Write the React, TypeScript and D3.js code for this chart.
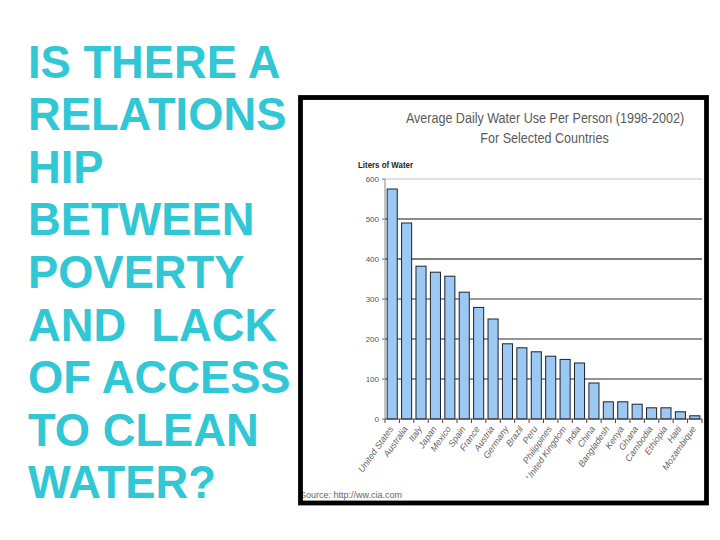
import React from "react";
import * as d3 from "d3";

const countries = [
  "United States", "Australia", "Italy", "Japan", "Mexico", "Spain", "France", "Austria",
  "Germany", "Brazil", "Peru", "Philippines", "United Kingdom", "India", "China",
  "Bangladesh", "Kenya", "Ghana", "Cambodia", "Ethiopia", "Haiti", "Mozambique",
];
const litersPerDay = [
  575, 490, 382, 367, 357, 317, 279, 250, 188, 178, 168, 157, 149, 140, 90,
  43, 43, 37, 28, 28, 18, 8,
];
const yTicks = [0, 100, 200, 300, 400, 500, 600];
const headingLines = [
  "IS THERE A", "RELATIONS", "HIP", "BETWEEN", "POVERTY", "AND\u00a0\u00a0LACK",
  "OF ACCESS", "TO CLEAN", "WATER?",
];
const chartTitle = ["Average Daily Water Use Per Person (1998-2002)", "For Selected Countries"];
const yAxisTitle = "Liters of Water";
const sourceText = "Source: http://ww.cia.com";

const gridColor: Record<number, string> = {
  600: "#c4c4c4", 500: "#1a1a1a", 400: "#555", 300: "#7a7a7a", 200: "#2a2a2a", 100: "#2a2a2a",
};

export default function App() {
  const x = d3.scaleBand<string>().domain(countries).range([385, 702]).paddingInner(0.3).paddingOuter(0.15);
  const y = d3.scaleLinear().domain([0, 600]).range([419, 179]);
  const step = x.step();
  const sans = "'Liberation Sans', Arial, sans-serif";

  return (
    <svg width={720} height={540} style={{ position: "absolute", left: 0, top: 0, background: "#fff" }}>
      <rect x={0} y={0} width={720} height={540} fill="#fff" />
      {headingLines.map((t, i) => (
        <text key={i} x={28} y={77.5 + i * 52.6} fill="#31c7d4"
          fontFamily={sans} fontWeight="bold" fontSize={45.3}>
          {t}
        </text>
      ))}

      <g transform="translate(545,123) scale(0.81,1)">
        <text x={0} y={0} textAnchor="middle" fill="#5a5a5a" fontFamily={sans} fontSize={15.5}>{chartTitle[0]}</text>
      </g>
      <g transform="translate(544.5,143) scale(0.81,1)">
        <text x={0} y={0} textAnchor="middle" fill="#5a5a5a" fontFamily={sans} fontSize={15.5}>{chartTitle[1]}</text>
      </g>

      <g transform="translate(358,168) scale(0.85,1)">
        <text x={0} y={0} fill="#222" fontFamily={sans} fontWeight="bold" fontSize={9.3}>{yAxisTitle}</text>
      </g>

      {yTicks.filter((t) => t > 0).map((t) => (
        <line key={t} x1={385} x2={702} y1={y(t)} y2={y(t)} stroke={gridColor[t]}
          strokeWidth={t === 300 || t === 400 ? 1.3 : 1} />
      ))}

      {yTicks.map((t) => (
        <g key={t}>
          <line x1={382} x2={385} y1={y(t)} y2={y(t)} stroke="#777" />
          <text x={379} y={y(t)} dy="0.35em" textAnchor="end" fill="#555" fontFamily={sans} fontSize={8}>{t}</text>
        </g>
      ))}
      <line x1={385} x2={385} y1={179} y2={419} stroke="#888" />

      {countries.map((c, i) => (
        <rect key={c} x={x(c)!} y={y(litersPerDay[i])} width={x.bandwidth()}
          height={y(0) - y(litersPerDay[i])} fill="#9cc8f4" stroke="#1c2230" strokeWidth={1} />
      ))}

      <line x1={385} x2={702} y1={419} y2={419} stroke="#444" />
      {d3.range(countries.length + 1).map((i) => (
        <line key={i} x1={385 + i * step} x2={385 + i * step} y1={419} y2={423} stroke="#444" />
      ))}

      <defs>
        <clipPath id="lblclip">
          <rect x={300} y={420} width={406} height={58} />
        </clipPath>
      </defs>
      <g clipPath="url(#lblclip)">
        {countries.map((c) => {
          const cx = x(c)! + x.bandwidth() / 2;
          return (
            <text key={c} transform={`translate(${cx - 1},${427}) rotate(-55)`} textAnchor="end" dy="0.35em"
              fill="#666" fontFamily={sans} fontStyle="italic" fontSize={9}>{c}</text>
          );
        })}
      </g>

      <text x={300} y={498} fill="#666" fontFamily={sans} fontSize={9}>{sourceText}</text>

      <rect x={300.5} y={97.5} width={406} height={405.5} fill="none" stroke="#000" strokeWidth={4.8} />
    </svg>
  );
}
